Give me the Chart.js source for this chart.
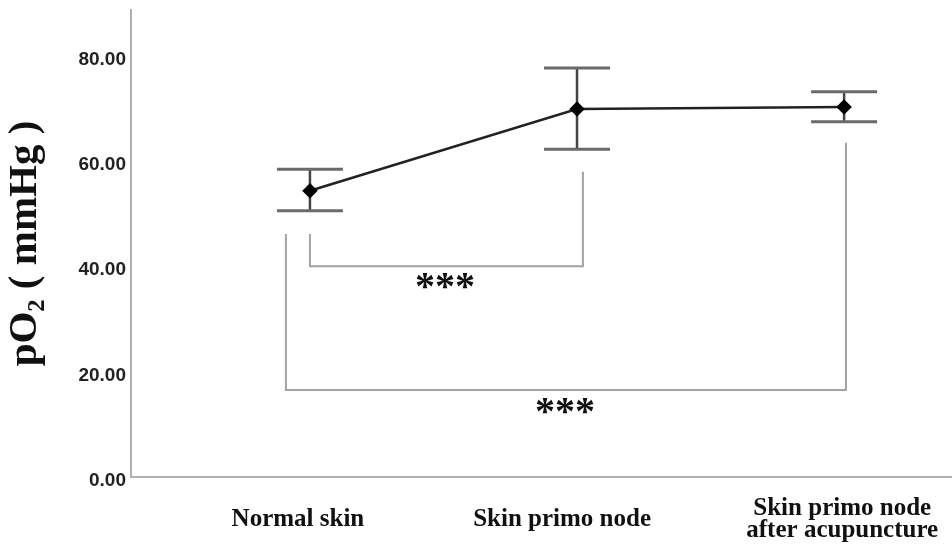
<!DOCTYPE html>
<html>
<head>
<meta charset="utf-8">
<script src="https://cdn.jsdelivr.net/npm/chart.js@4/dist/chart.umd.min.js"></script>
<style>
    html, body { margin: 0; padding: 0; background: #fff; }
    #wrap { width: 952px; height: 550px; }
</style>
</head>
<body>
<div id="wrap"><canvas id="chart" width="952" height="550"></canvas></div>
<script>
const groups = ['Normal skin', 'Skin primo node', ['Skin primo node', 'after acupuncture']];
const meanPO2 = [54.3, 69.8, 70.2];
const upperPO2 = [58.4, 77.6, 73.1];
const lowerPO2 = [50.5, 62.2, 67.4];
const yTicks = [0, 20, 40, 60, 80];

// significance brackets (x in group index, y in mmHg)
const bracketA = [[0, 46.1], [0, 40.0], [1.022, 40.0], [1.022, 57.9]];
const bracketB = [[-0.09, 46.1], [-0.09, 16.5], [2.007, 16.5], [2.007, 63.4]];
const stars = [
    { x: 0.506, y: 36.8, text: '***' },
    { x: 0.955, y: 13.1, text: '***' }
];

const serif = "'Liberation Serif', 'Times New Roman', 'DejaVu Serif', serif";
const sans = "'Liberation Sans', Arial, sans-serif";

const errorBars = {
    id: 'errorBars',
    beforeDatasetsDraw(chart) {
        const { ctx, scales: { x, y } } = chart;
        ctx.save();
        meanPO2.forEach((m, i) => {
            const px = x.getPixelForValue(i);
            const top = y.getPixelForValue(upperPO2[i]);
            const bot = y.getPixelForValue(lowerPO2[i]);
            ctx.strokeStyle = '#444';
            ctx.lineWidth = 2.5;
            ctx.beginPath();
            ctx.moveTo(px, top);
            ctx.lineTo(px, bot);
            ctx.stroke();
            ctx.strokeStyle = '#6a6a6a';
            ctx.lineWidth = 3;
            ctx.beginPath();
            ctx.moveTo(px - 33, top);
            ctx.lineTo(px + 33, top);
            ctx.moveTo(px - 33, bot);
            ctx.lineTo(px + 33, bot);
            ctx.stroke();
        });
        ctx.restore();
    },
    afterDatasetsDraw(chart) {
        const { ctx, scales: { x, y } } = chart;
        ctx.save();
        ctx.fillStyle = '#111';
        ctx.font = 'bold 40px ' + serif;
        ctx.textAlign = 'center';
        ctx.textBaseline = 'middle';
        stars.forEach(s => {
            // asterisks sit high in the em box, push them down a little
            ctx.fillText(s.text, x.getPixelForValue(s.x), y.getPixelForValue(s.y) + 6);
        });
        ctx.restore();
    }
};

const bracketStyle = {
    borderColor: '#a3a3a3',
    borderWidth: 2,
    pointRadius: 0,
    tension: 0,
    fill: false
};

// keep the plot area fixed: no extra room for edge labels
function noEdgePadding(s) {
    s.paddingLeft = 0;
    s.paddingRight = 0;
    s.paddingTop = 0;
    s.paddingBottom = 0;
}

new Chart(document.getElementById('chart'), {
    type: 'line',
    data: {
        datasets: [
            {
                label: 'mean',
                data: meanPO2.map((v, i) => ({ x: i, y: v })),
                borderColor: '#222',
                borderWidth: 2.5,
                pointStyle: 'rectRot',
                pointRadius: 6,
                pointBackgroundColor: '#000',
                pointBorderColor: '#000',
                tension: 0,
                order: 0
            },
            Object.assign({ label: 'a', data: bracketA.map(p => ({ x: p[0], y: p[1] })), order: 1 }, bracketStyle),
            Object.assign({ label: 'b', data: bracketB.map(p => ({ x: p[0], y: p[1] })), order: 1 }, bracketStyle)
        ]
    },
    options: {
        responsive: false,
        animation: false,
        layout: { autoPadding: false, padding: { top: 10, right: 0, bottom: 0, left: 0 } },
        plugins: {
            legend: { display: false },
            tooltip: { enabled: false }
        },
        scales: {
            x: {
                type: 'linear',
                min: -0.670,
                max: 2.404,
                afterFit: s => { s.height = 73; noEdgePadding(s); },
                afterBuildTicks: s => {
                    s.ticks = [-0.045, 0.944, 1.993].map(v => ({ value: v }));
                },
                grid: { display: false, drawTicks: false },
                border: { display: true, color: '#b0b0b0', width: 2 },
                ticks: {
                    autoSkip: false,
                    maxRotation: 0,
                    crossAlign: 'center',
                    padding: 32,
                    color: '#111',
                    font: { family: serif, size: 25, weight: 'bold', lineHeight: 0.88 },
                    callback: (v, i) => groups[i]
                }
            },
            y: {
                min: 0,
                max: 88.6,
                afterFit: s => { s.width = 131; noEdgePadding(s); },
                afterBuildTicks: s => {
                    s.ticks = yTicks.map(v => ({ value: v }));
                },
                grid: { display: false, drawTicks: false },
                border: { display: true, color: '#b0b0b0', width: 2 },
                ticks: {
                    padding: 5,
                    labelOffset: 4,
                    color: '#222',
                    font: { family: sans, size: 19, weight: 'bold' },
                    callback: v => v.toFixed(2)
                },
                title: {
                    display: true,
                    text: 'pO\u2082 ( mmHg )',
                    color: '#111',
                    padding: { top: 5, bottom: 0 },
                    font: { family: serif, size: 41, weight: 'bold', lineHeight: 1 }
                }
            }
        }
    },
    plugins: [errorBars]
});
</script>
</body>
</html>
